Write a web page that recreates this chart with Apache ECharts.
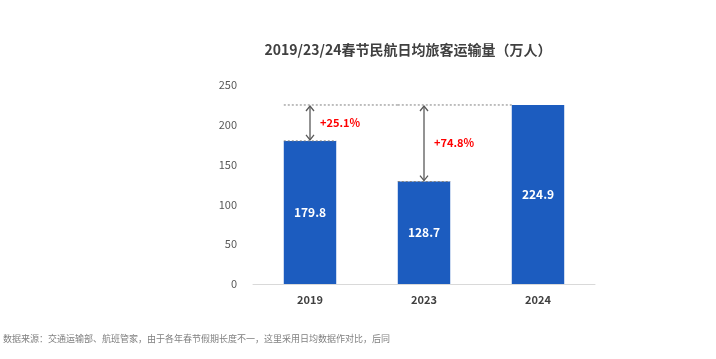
<!DOCTYPE html>
<html>
<head>
<meta charset="utf-8">
<script src="https://cdn.jsdelivr.net/npm/echarts@6/dist/echarts.min.js"></script>
<style>html,body{margin:0;padding:0;background:#fff}#c{width:716px;height:359px}</style>
</head>
<body>
<div id="c"></div>
<script>
const categories = ['2019', '2023', '2024'];
const values = [179.8, 128.7, 224.9];
const yTicks = [0, 50, 100, 150, 200, 250];
// comparisons: [base category index, target category index, growth label]
const compBase = [0, 1];
const compTarget = [2, 2];
const compLabels = ['+25.1%', '+74.8%'];

const annData = compBase.map((b, i) => [b, values[b], values[compTarget[i]], compTarget[i], compLabels[i]]);
const FONT = '"Noto Sans CJK SC", "Noto Sans", sans-serif';
const chart = echarts.init(document.getElementById('c'));

function arrowHead(x, y, dir) {
  return { type: 'polyline', shape: { points: [[x - 4, y + dir * 5], [x, y], [x + 4, y + dir * 5]] },
    style: { stroke: '#595959', lineWidth: 1.3, fill: null } };
}

chart.setOption({
  animation: false,
  title: {
    text: '2019/23/24春节民航日均旅客运输量（万人）',
    left: 403, top: 38, textAlign: 'center',
    textStyle: { fontFamily: FONT, fontSize: 14, fontWeight: 'bold', color: '#404040' }
  },
  graphic: [{
    type: 'text', left: 3, top: 334,
    style: { text: '数据来源：交通运输部、航班管家，由于各年春节假期长度不一，这里采用日均数据作对比，后同',
      font: '9px ' + FONT, fill: '#808080' }
  }],
  grid: { left: 253, right: 121, top: 85, bottom: 75 },
  xAxis: {
    type: 'category', data: categories,
    axisLine: { lineStyle: { color: '#d9d9d9', width: 1 } },
    axisTick: { show: false },
    axisLabel: { fontFamily: FONT, fontSize: 11, fontWeight: 'bold', color: '#404040', margin: 10 }
  },
  yAxis: {
    type: 'value', min: yTicks[0], max: yTicks[yTicks.length - 1], interval: 50,
    axisLine: { show: false }, axisTick: { show: false }, splitLine: { show: false },
    axisLabel: { fontFamily: FONT, fontSize: 11, color: '#595959', margin: 16 }
  },
  series: [{
    type: 'bar', data: values, barWidth: '46%',
    itemStyle: { color: '#1c5cbf' },
    label: { show: true, position: 'inside', color: '#ffffff', fontFamily: FONT, fontSize: 12, fontWeight: 'bold',
      formatter: p => p.value.toFixed(1) }
  }, {
    type: 'custom', data: annData, z: 5,
    encode: { x: 0, y: [1, 2] },
    renderItem: function (params, api) {
      const idx = api.value(0), base = api.value(1), top = api.value(2);
      const pB = api.coord([idx, base]);
      const pT = api.coord([idx, top]);
      const pNext = api.coord([idx + 1, top]);
      const half = api.size([1, 0])[0] * 0.23;
      const dot = { stroke: '#7f7f7f', lineWidth: 1, lineDash: [2, 2] };
      const mid = (pB[1] + pT[1]) / 2;
      return { type: 'group', children: [
        { type: 'line', shape: { x1: pB[0] - half, y1: pB[1], x2: pB[0] + half, y2: pB[1] }, style: dot },
        { type: 'line', shape: { x1: pB[0] - half, y1: pT[1], x2: pNext[0] - half, y2: pT[1] }, style: dot },
        { type: 'line', shape: { x1: pB[0], y1: pT[1] + 1, x2: pB[0], y2: pB[1] - 1 }, style: { stroke: '#595959', lineWidth: 1.3 } },
        arrowHead(pB[0], pT[1] + 1, 1),
        arrowHead(pB[0], pB[1] - 1, -1),
        { type: 'text', x: pB[0] + 10, y: mid, style: { text: api.value(4), font: 'bold 11px ' + FONT, fill: '#ff0000',
          textAlign: 'left', textVerticalAlign: 'middle' } }
      ]};
    }
  }]
});
</script>
</body>
</html>
